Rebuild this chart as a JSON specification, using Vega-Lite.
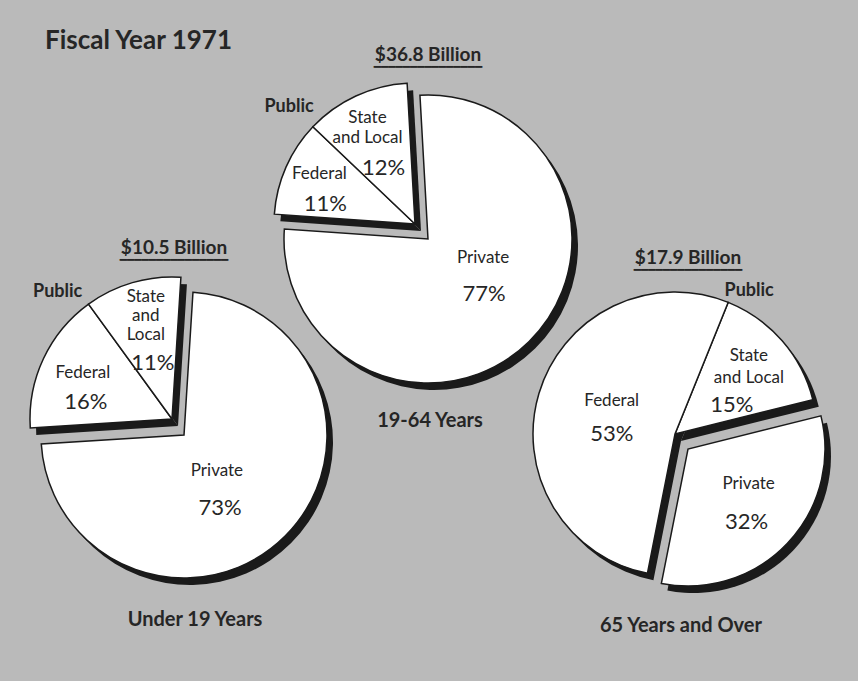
{
  "$schema": "https://vega.github.io/schema/vega-lite/v6.json",
  "background": "#bababa",
  "padding": 0,
  "columns": 3,
  "spacing": 0,
  "bounds": "flush",
  "align": "each",
  "datasets": {
    "funding": [
      {"age": "Under 19 Years", "source": "Private", "group": "Private", "share": 0.73, "order": 1, "label": "Private"},
      {"age": "Under 19 Years", "source": "Federal", "group": "Public", "share": 0.16, "order": 2, "label": "Federal"},
      {"age": "Under 19 Years", "source": "State and Local", "group": "Public", "share": 0.11, "order": 3, "label": "State\nand\nLocal"},
      {"age": "19-64 Years", "source": "Private", "group": "Private", "share": 0.77, "order": 1, "label": "Private"},
      {"age": "19-64 Years", "source": "Federal", "group": "Public", "share": 0.11, "order": 2, "label": "Federal"},
      {"age": "19-64 Years", "source": "State and Local", "group": "Public", "share": 0.12, "order": 3, "label": "State\nand Local"},
      {"age": "65 Years and Over", "source": "State and Local", "group": "Public", "share": 0.15, "order": 1, "label": "State\nand Local"},
      {"age": "65 Years and Over", "source": "Private", "group": "Private", "share": 0.32, "order": 2, "label": "Private"},
      {"age": "65 Years and Over", "source": "Federal", "group": "Public", "share": 0.53, "order": 3, "label": "Federal"}
    ]
  },
  "config": {
    "view": {"stroke": null},
    "text": {"font": "Lato", "color": "#262626", "lineBreak": "\n"},
    "title": {
      "font": "Lato", "fontWeight": "bold", "fontSize": 19, "color": "#262626",
      "subtitleFont": "DejaVu Sans Mono", "subtitleFontSize": 12, "subtitleColor": "#262626",
      "subtitlePadding": 0, "frame": "group", "anchor": "middle"
    }
  },
  "concat": [
    {"width": 277, "height": 79, "data": {"values": [{}]},
     "mark": {"type": "text", "text": "Fiscal Year 1971", "fontWeight": "bold", "fontSize": 26}},
    {"width": 120, "height": 10, "data": {"values": [{}]}, "mark": {"type": "text", "text": ""}},
    {"width": 370, "height": 188, "data": {"values": [{}]}, "mark": {"type": "text", "text": ""}},

    {"width": 368, "height": 10, "data": {"values": [{}]}, "mark": {"type": "text", "text": ""}},
    {
      "width": 120, "height": 100,
      "data": {"name": "funding"},
      "transform": [{"filter": "datum.age === '19-64 Years'"}],
      "title": {"text": "$36.8 Billion", "subtitle": "▔▔▔▔▔▔▔▔▔▔▔▔▔▔▔", "offset": 1},
      "encoding": {
        "theta": {"field": "share", "type": "quantitative", "stack": true, "scale": {"range": [-0.0559, 6.2273]}},
        "order": {"field": "order", "type": "quantitative"}
      },
      "layer": [
        {"mark": {"type": "arc", "radius": 144, "xOffset": 6, "yOffset": 7, "fill": "#1a1a1a"},
         "encoding": {"opacity": {"condition": {"test": "datum.group === 'Private'", "value": 1}, "value": 0}}},
        {"mark": {"type": "arc", "radius": 141, "xOffset": -7, "yOffset": -8, "fill": "#1a1a1a"},
         "encoding": {"opacity": {"condition": {"test": "datum.group === 'Public'", "value": 1}, "value": 0}}},
        {"mark": {"type": "arc", "radius": 144, "fill": "white", "stroke": "#1a1a1a", "strokeWidth": 1.5},
         "encoding": {"opacity": {"condition": {"test": "datum.group === 'Private'", "value": 1}, "value": 0}}},
        {"mark": {"type": "arc", "radius": 141, "xOffset": -13, "yOffset": -15, "fill": "white", "stroke": "#1a1a1a", "strokeWidth": 1.5},
         "encoding": {"opacity": {"condition": {"test": "datum.group === 'Public'", "value": 1}, "value": 0}}},
        {"mark": {"type": "text", "radius": 60, "dx": 13, "dy": -24, "fontSize": 17},
         "encoding": {"text": {"condition": {"test": "datum.source === 'Private'", "field": "label", "type": "nominal"}, "value": ""}}},
        {"mark": {"type": "text", "radius": 60, "dx": 14, "dy": 12, "fontSize": 22},
         "encoding": {"text": {"condition": {"test": "datum.source === 'Private'", "field": "share", "type": "quantitative", "format": ".0%"}, "value": ""}}},
        {"mark": {"type": "text", "radius": 99, "dx": -18, "dy": -25, "fontSize": 17},
         "encoding": {"text": {"condition": {"test": "datum.source === 'Federal'", "field": "label", "type": "nominal"}, "value": ""}}},
        {"mark": {"type": "text", "radius": 99, "dx": -12, "dy": 5, "fontSize": 22},
         "encoding": {"text": {"condition": {"test": "datum.source === 'Federal'", "field": "share", "type": "quantitative", "format": ".0%"}, "value": ""}}},
        {"mark": {"type": "text", "radius": 87, "dx": -24, "dy": -42, "fontSize": 17, "lineHeight": 20},
         "encoding": {"text": {"condition": {"test": "datum.source === 'State and Local'", "field": "label", "type": "nominal"}, "value": ""}}},
        {"mark": {"type": "text", "radius": 87, "dx": -8, "dy": 8, "fontSize": 22},
         "encoding": {"text": {"condition": {"test": "datum.source === 'State and Local'", "field": "share", "type": "quantitative", "format": ".0%"}, "value": ""}}},
        {"mark": {"type": "text", "radius": 172, "thetaOffset": -0.389, "dx": -13, "dy": -15, "fontSize": 18, "fontWeight": "bold"},
         "encoding": {"text": {"condition": {"test": "datum.source === 'State and Local'", "field": "group", "type": "nominal"}, "value": ""}}}
      ]
    },
    {"width": 370, "height": 10, "data": {"values": [{}]}, "mark": {"type": "text", "text": ""}},

    {
      "width": 368, "height": 292,
      "data": {"name": "funding"},
      "transform": [{"filter": "datum.age === 'Under 19 Years'"}],
      "title": {"text": "$10.5 Billion", "subtitle": "▔▔▔▔▔▔▔▔▔▔▔▔▔▔▔", "dx": -10, "offset": 2},
      "encoding": {
        "theta": {"field": "share", "type": "quantitative", "stack": true, "scale": {"range": [0.0628, 6.346]}},
        "order": {"field": "order", "type": "quantitative"}
      },
      "layer": [
        {"mark": {"type": "arc", "radius": 143, "xOffset": 6, "yOffset": 7, "fill": "#1a1a1a"},
         "encoding": {"opacity": {"condition": {"test": "datum.group === 'Private'", "value": 1}, "value": 0}}},
        {"mark": {"type": "arc", "radius": 142, "xOffset": -6, "yOffset": -9, "fill": "#1a1a1a"},
         "encoding": {"opacity": {"condition": {"test": "datum.group === 'Public'", "value": 1}, "value": 0}}},
        {"mark": {"type": "arc", "radius": 143, "fill": "white", "stroke": "#1a1a1a", "strokeWidth": 1.5},
         "encoding": {"opacity": {"condition": {"test": "datum.group === 'Private'", "value": 1}, "value": 0}}},
        {"mark": {"type": "arc", "radius": 142, "xOffset": -12, "yOffset": -16, "fill": "white", "stroke": "#1a1a1a", "strokeWidth": 1.5},
         "encoding": {"opacity": {"condition": {"test": "datum.group === 'Public'", "value": 1}, "value": 0}}},
        {"mark": {"type": "text", "radius": 65, "dx": -13, "dy": -10, "fontSize": 17},
         "encoding": {"text": {"condition": {"test": "datum.source === 'Private'", "field": "label", "type": "nominal"}, "value": ""}}},
        {"mark": {"type": "text", "radius": 65, "dx": -10, "dy": 27, "fontSize": 22},
         "encoding": {"text": {"condition": {"test": "datum.source === 'Private'", "field": "share", "type": "quantitative", "format": ".0%"}, "value": ""}}},
        {"mark": {"type": "text", "radius": 93, "dx": -17, "dy": -22, "fontSize": 17},
         "encoding": {"text": {"condition": {"test": "datum.source === 'Federal'", "field": "label", "type": "nominal"}, "value": ""}}},
        {"mark": {"type": "text", "radius": 93, "dx": -14, "dy": 7, "fontSize": 22},
         "encoding": {"text": {"condition": {"test": "datum.source === 'Federal'", "field": "share", "type": "quantitative", "format": ".0%"}, "value": ""}}},
        {"mark": {"type": "text", "radius": 83, "dx": -15, "dy": -58, "fontSize": 17, "lineHeight": 19},
         "encoding": {"text": {"condition": {"test": "datum.source === 'State and Local'", "field": "label", "type": "nominal"}, "value": ""}}},
        {"mark": {"type": "text", "radius": 83, "dx": -8, "dy": 8, "fontSize": 22},
         "encoding": {"text": {"condition": {"test": "datum.source === 'State and Local'", "field": "share", "type": "quantitative", "format": ".0%"}, "value": ""}}},
        {"mark": {"type": "text", "radius": 171, "thetaOffset": -0.45, "dx": -12, "dy": -16, "fontSize": 18, "fontWeight": "bold"},
         "encoding": {"text": {"condition": {"test": "datum.source === 'State and Local'", "field": "group", "type": "nominal"}, "value": ""}}}
      ]
    },
    {"width": 120, "height": 264, "data": {"values": [{}]},
     "mark": {"type": "text", "text": "19-64 Years", "fontWeight": "bold", "fontSize": 20, "dx": 2}},
    {
      "width": 370, "height": 292,
      "data": {"name": "funding"},
      "transform": [{"filter": "datum.age === '65 Years and Over'"}],
      "title": {"text": "$17.9 Billion", "subtitle": "▔▔▔▔▔▔▔▔▔▔▔▔▔▔▔", "dx": 15, "offset": 0},
      "encoding": {
        "theta": {"field": "share", "type": "quantitative", "stack": true, "scale": {"range": [0.384, 6.6672]}},
        "order": {"field": "order", "type": "quantitative"}
      },
      "layer": [
        {"mark": {"type": "arc", "radius": 137, "xOffset": 21, "yOffset": 21, "fill": "#1a1a1a"},
         "encoding": {"opacity": {"condition": {"test": "datum.group === 'Private'", "value": 1}, "value": 0}}},
        {"mark": {"type": "arc", "radius": 142, "xOffset": 8, "yOffset": 6, "fill": "#1a1a1a"},
         "encoding": {"opacity": {"condition": {"test": "datum.group === 'Public'", "value": 1}, "value": 0}}},
        {"mark": {"type": "arc", "radius": 137, "xOffset": 15, "yOffset": 14, "fill": "white", "stroke": "#1a1a1a", "strokeWidth": 1.5},
         "encoding": {"opacity": {"condition": {"test": "datum.group === 'Private'", "value": 1}, "value": 0}}},
        {"mark": {"type": "arc", "radius": 142, "xOffset": 2, "yOffset": -1, "fill": "white", "stroke": "#1a1a1a", "strokeWidth": 1.5},
         "encoding": {"opacity": {"condition": {"test": "datum.group === 'Public'", "value": 1}, "value": 0}}},
        {"mark": {"type": "text", "radius": 81, "dx": 17, "dy": -7, "fontSize": 17},
         "encoding": {"text": {"condition": {"test": "datum.source === 'Private'", "field": "label", "type": "nominal"}, "value": ""}}},
        {"mark": {"type": "text", "radius": 81, "dx": 15, "dy": 31, "fontSize": 22},
         "encoding": {"text": {"condition": {"test": "datum.source === 'Private'", "field": "share", "type": "quantitative", "format": ".0%"}, "value": ""}}},
        {"mark": {"type": "text", "radius": 65, "dx": 1, "dy": -15, "fontSize": 17},
         "encoding": {"text": {"condition": {"test": "datum.source === 'Federal'", "field": "label", "type": "nominal"}, "value": ""}}},
        {"mark": {"type": "text", "radius": 65, "dx": 1, "dy": 18, "fontSize": 22},
         "encoding": {"text": {"condition": {"test": "datum.source === 'Federal'", "field": "share", "type": "quantitative", "format": ".0%"}, "value": ""}}},
        {"mark": {"type": "text", "radius": 82, "dx": 14, "dy": -25, "fontSize": 17, "lineHeight": 22},
         "encoding": {"text": {"condition": {"test": "datum.source === 'State and Local'", "field": "label", "type": "nominal"}, "value": ""}}},
        {"mark": {"type": "text", "radius": 82, "dx": -3, "dy": 24, "fontSize": 22},
         "encoding": {"text": {"condition": {"test": "datum.source === 'State and Local'", "field": "share", "type": "quantitative", "format": ".0%"}, "value": ""}}},
        {"mark": {"type": "text", "radius": 164, "thetaOffset": -0.386, "dx": 2, "dy": 2, "fontSize": 18, "fontWeight": "bold"},
         "encoding": {"text": {"condition": {"test": "datum.source === 'State and Local'", "field": "group", "type": "nominal"}, "value": ""}}}
      ]
    },

    {"width": 368, "height": 77, "data": {"values": [{}]},
     "mark": {"type": "text", "text": "Under 19 Years", "fontWeight": "bold", "fontSize": 20, "dx": 11}},
    {"width": 120, "height": 101, "data": {"values": [{}]}, "mark": {"type": "text", "text": ""}},
    {"width": 370, "height": 90, "data": {"values": [{}]},
     "mark": {"type": "text", "text": "65 Years and Over", "fontWeight": "bold", "fontSize": 20, "dx": 8}}
  ]
}
